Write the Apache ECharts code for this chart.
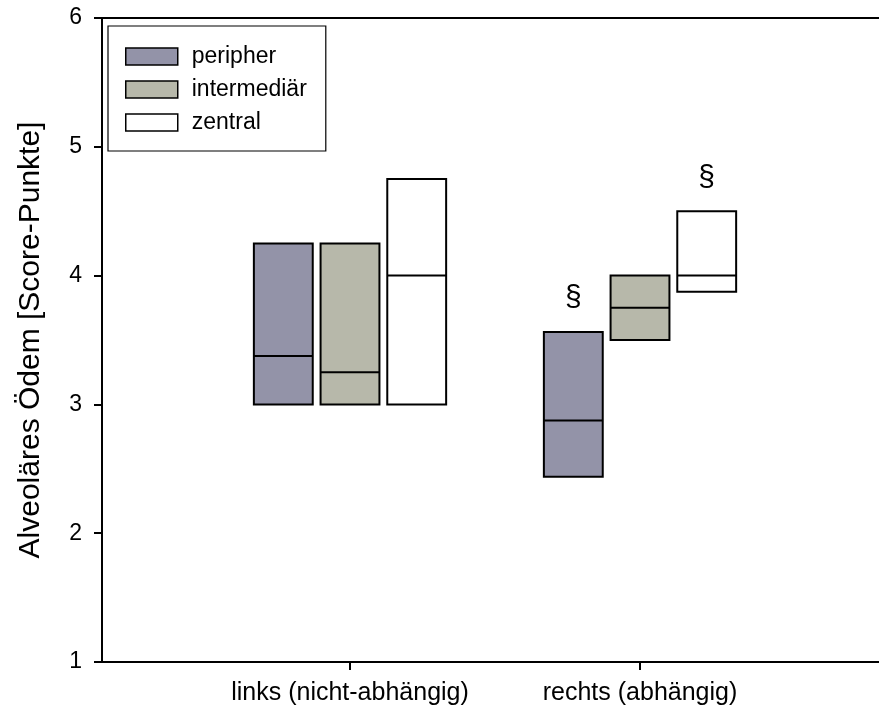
<!DOCTYPE html>
<html>
<head>
<meta charset="utf-8">
<script src="https://cdn.jsdelivr.net/npm/echarts@6/dist/echarts.min.js"></script>
<style>html,body{margin:0;padding:0;background:#fff;}#c{width:879px;height:717px;}</style>
</head>
<body>
<div id="c"></div>
<script>
var categories = ['links (nicht-abhängig)', 'rechts (abhängig)'];
var groups = ['peripher', 'intermediär', 'zentral'];
var colors = ['#9393a8', '#b7b8aa', '#ffffff'];
// [q1, median, q3] per category
var peripher    = [[3.0, 3.375, 4.25], [2.4375, 2.875, 3.5625]];
var intermediar = [[3.0, 3.25, 4.25],  [3.5, 3.75, 4.0]];
var zentral     = [[3.0, 4.0, 4.75],   [3.875, 4.0, 4.5]];
var yTicks = [1, 2, 3, 4, 5, 6];
// significance markers: [category index, group index, y]
var sigMarks = [[1, 0, 3.83], [1, 2, 4.76]];

var seriesValues = [peripher, intermediar, zentral];
var offsets = [-0.23, 0, 0.23];
var boxW = 0.203;
var FONT = '"Liberation Sans", Arial, sans-serif';

var chart = echarts.init(document.getElementById('c'), null, {renderer: 'canvas'});

function boxRender(params, api) {
  var x = api.value(0), q1 = api.value(1), med = api.value(2), q3 = api.value(3);
  var pTL = api.coord([x - boxW / 2, q3]);
  var pBR = api.coord([x + boxW / 2, q1]);
  var pM = api.coord([x, med]);
  var fill = api.visual('color');
  return {
    type: 'group',
    children: [
      {type: 'rect', shape: {x: pTL[0], y: pTL[1], width: pBR[0] - pTL[0], height: pBR[1] - pTL[1]},
       style: {fill: fill, stroke: '#000', lineWidth: 2}},
      {type: 'line', shape: {x1: pTL[0], y1: pM[1], x2: pBR[0], y2: pM[1]},
       style: {stroke: '#000', lineWidth: 2}}
    ]
  };
}

var series = groups.map(function (g, gi) {
  return {
    name: g,
    type: 'custom',
    renderItem: boxRender,
    itemStyle: {color: colors[gi], borderColor: '#000', borderWidth: 1.5},
    encode: {x: 0, y: [1, 2, 3]},
    data: seriesValues[gi].map(function (v, ci) {
      return [ci + 1 + offsets[gi], v[0], v[1], v[2]];
    })
  };
});

series.push({
  type: 'custom',
  silent: true,
  renderItem: function (params, api) {
    var p = api.coord([api.value(0), api.value(1)]);
    return {type: 'text', x: p[0], y: p[1],
      style: {text: '§', fill: '#000', font: '30px ' + FONT, align: 'center', verticalAlign: 'middle'}};
  },
  data: sigMarks.map(function (s) { return [s[0] + 1 + offsets[s[1]], s[2]]; })
});

var xMin = 0.1448, xMax = 2.8241;

chart.setOption({
  animation: false,
  backgroundColor: '#fff',
  grid: {left: 102, top: 18, right: 0, bottom: 55},
  legend: {
    show: true,
    left: 108, top: 26,
    orient: 'vertical',
    itemWidth: 52, itemHeight: 17, itemGap: 10,
    textStyle: {fontSize: 23, fontFamily: FONT, color: '#000', padding: [0, 0, 0, 9]},
    data: groups.map(function (g, gi) {
      return {name: g, icon: 'rect', itemStyle: {color: colors[gi], borderColor: '#000', borderWidth: 1.5}};
    }),
    borderColor: '#000', borderWidth: 1.2,
    padding: [19, 19, 17, 17]
  },
  xAxis: [{
    type: 'value', min: xMin, max: xMax,
    splitLine: {show: false},
    axisLine: {show: true, lineStyle: {color: '#000', width: 2}},
    axisTick: {show: true, length: 8, lineStyle: {color: '#000', width: 2}, customValues: [1, 2]},
    axisLabel: {show: true, customValues: [1, 2], margin: 19, fontSize: 25, fontFamily: FONT, color: '#000',
      formatter: function (v) { return categories[Math.round(v) - 1] || ''; }}
  }, {
    type: 'value', min: xMin, max: xMax, position: 'top',
    splitLine: {show: false},
    axisLine: {show: true, lineStyle: {color: '#000', width: 2}},
    axisTick: {show: false}, axisLabel: {show: false}
  }],
  yAxis: {
    type: 'value', min: yTicks[0], max: yTicks[yTicks.length - 1], interval: 1,
    name: 'Alveoläres Ödem [Score-Punkte]',
    nameLocation: 'middle', nameGap: 56, nameRotate: 90,
    nameTextStyle: {fontSize: 30, fontFamily: FONT, color: '#000'},
    splitLine: {show: false},
    axisLine: {show: true, lineStyle: {color: '#000', width: 2}},
    axisTick: {show: true, length: 8, lineStyle: {color: '#000', width: 2}},
    axisLabel: {margin: 20, fontSize: 23, fontFamily: FONT, color: '#000'}
  },
  series: series
});
</script>
</body>
</html>
